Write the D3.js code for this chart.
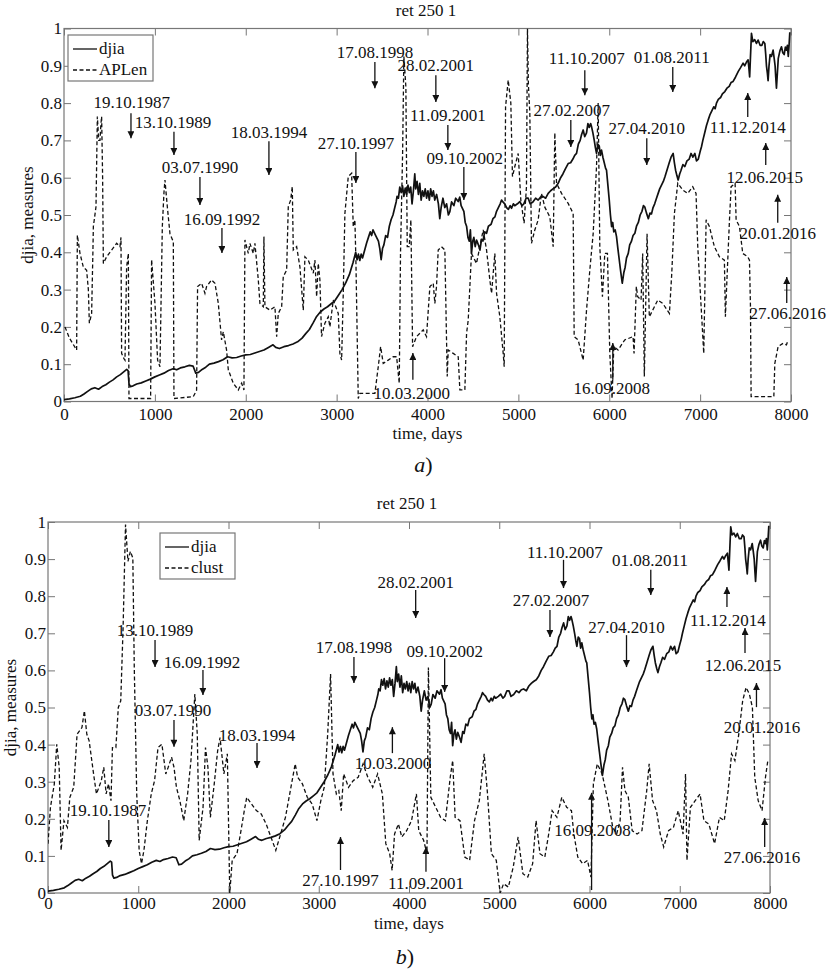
<!DOCTYPE html>
<html>
<head>
<meta charset="utf-8">
<script src="https://cdn.jsdelivr.net/npm/d3@7"></script>
<style>
  body { margin: 0; background: #fff; }
  svg, svg text { font-family: 'Liberation Serif', 'DejaVu Serif', serif; }
</style>
</head>
<body>
<div id="canvas"></div>
<script>
// ---- data (day, normalised value) ----
const xTicks = [0, 1000, 2000, 3000, 4000, 5000, 6000, 7000, 8000];
const yTicks = [0, 0.1, 0.2, 0.3, 0.4, 0.5, 0.6, 0.7, 0.8, 0.9, 1];

const djia = [[0,0.005],[60,0.007],[120,0.010],[180,0.014],[220,0.020],[260,0.027],[300,0.034],[340,0.037],[380,0.033],[420,0.040],[460,0.045],[500,0.052],[540,0.058],[580,0.066],[620,0.072],[660,0.080],[690,0.086],[705,0.083],[715,0.048],[730,0.040],[760,0.042],[800,0.047],[850,0.050],[900,0.055],[950,0.060],[1000,0.066],[1050,0.071],[1100,0.076],[1150,0.083],[1200,0.088],[1240,0.085],[1280,0.090],[1330,0.093],[1380,0.097],[1420,0.095],[1450,0.076],[1480,0.078],[1520,0.086],[1560,0.092],[1600,0.100],[1650,0.103],[1700,0.107],[1750,0.112],[1800,0.120],[1850,0.117],[1900,0.118],[1950,0.122],[2000,0.125],[2050,0.126],[2100,0.130],[2150,0.134],[2200,0.138],[2250,0.145],[2300,0.152],[2330,0.145],[2370,0.142],[2420,0.147],[2470,0.150],[2520,0.154],[2570,0.160],[2620,0.170],[2660,0.182],[2700,0.193],[2740,0.210],[2780,0.228],[2820,0.240],[2860,0.248],[2900,0.254],[2940,0.262],[2980,0.270],[3020,0.285],[3060,0.300],[3100,0.318],[3140,0.340],[3180,0.372],[3210,0.400],[3225,0.380],[3240,0.395],[3255,0.378],[3270,0.395],[3285,0.385],[3300,0.398],[3330,0.425],[3350,0.440],[3370,0.455],[3385,0.445],[3400,0.460],[3430,0.445],[3460,0.430],[3475,0.410],[3490,0.380],[3505,0.410],[3520,0.420],[3540,0.445],[3560,0.440],[3580,0.470],[3600,0.488],[3620,0.500],[3640,0.520],[3655,0.535],[3665,0.550],[3680,0.545],[3695,0.575],[3710,0.560],[3725,0.578],[3740,0.550],[3755,0.572],[3770,0.555],[3785,0.580],[3800,0.560],[3815,0.575],[3830,0.530],[3845,0.565],[3860,0.610],[3870,0.570],[3885,0.590],[3900,0.555],[3915,0.585],[3930,0.540],[3945,0.565],[3960,0.550],[3975,0.570],[3990,0.545],[4005,0.565],[4020,0.540],[4035,0.570],[4050,0.550],[4065,0.565],[4080,0.540],[4100,0.555],[4120,0.530],[4135,0.490],[4150,0.520],[4170,0.545],[4190,0.520],[4210,0.530],[4230,0.500],[4246,0.509],[4265,0.535],[4290,0.525],[4310,0.545],[4338,0.536],[4355,0.548],[4370,0.525],[4400,0.510],[4415,0.480],[4430,0.470],[4445,0.440],[4460,0.430],[4472,0.460],[4484,0.397],[4498,0.430],[4510,0.440],[4525,0.415],[4540,0.433],[4560,0.420],[4577,0.406],[4595,0.435],[4610,0.430],[4630,0.455],[4650,0.451],[4670,0.470],[4700,0.475],[4720,0.490],[4742,0.495],[4760,0.510],[4780,0.520],[4800,0.530],[4815,0.540],[4830,0.535],[4850,0.530],[4870,0.520],[4890,0.515],[4910,0.525],[4925,0.518],[4945,0.530],[4960,0.525],[4990,0.530],[5016,0.536],[5040,0.525],[5060,0.530],[5085,0.545],[5108,0.545],[5130,0.530],[5160,0.535],[5190,0.545],[5218,0.540],[5245,0.548],[5270,0.550],[5300,0.545],[5328,0.558],[5355,0.565],[5380,0.570],[5410,0.575],[5438,0.585],[5465,0.600],[5490,0.610],[5520,0.625],[5548,0.638],[5575,0.640],[5600,0.650],[5620,0.660],[5640,0.665],[5660,0.690],[5680,0.700],[5695,0.715],[5713,0.728],[5730,0.710],[5750,0.720],[5765,0.745],[5780,0.735],[5795,0.745],[5805,0.737],[5820,0.720],[5835,0.700],[5848,0.680],[5860,0.665],[5875,0.690],[5890,0.685],[5902,0.660],[5915,0.674],[5930,0.655],[5945,0.640],[5960,0.625],[5970,0.620],[5985,0.580],[6000,0.540],[6013,0.500],[6026,0.469],[6038,0.480],[6050,0.455],[6065,0.460],[6080,0.442],[6095,0.410],[6110,0.380],[6125,0.350],[6143,0.317],[6160,0.345],[6175,0.360],[6190,0.385],[6209,0.397],[6225,0.420],[6245,0.430],[6262,0.445],[6282,0.451],[6300,0.470],[6320,0.480],[6340,0.500],[6360,0.510],[6376,0.525],[6392,0.521],[6410,0.505],[6430,0.490],[6448,0.505],[6465,0.503],[6482,0.520],[6500,0.530],[6520,0.545],[6538,0.558],[6555,0.570],[6575,0.580],[6595,0.590],[6612,0.602],[6635,0.620],[6660,0.640],[6680,0.655],[6703,0.665],[6717,0.640],[6730,0.620],[6745,0.605],[6758,0.594],[6775,0.610],[6790,0.620],[6810,0.635],[6832,0.630],[6855,0.645],[6880,0.650],[6900,0.665],[6920,0.655],[6942,0.665],[6960,0.645],[6980,0.650],[7000,0.670],[7015,0.683],[7030,0.700],[7050,0.720],[7070,0.740],[7089,0.755],[7110,0.770],[7130,0.780],[7150,0.790],[7165,0.785],[7180,0.800],[7200,0.810],[7225,0.815],[7245,0.825],[7272,0.831],[7295,0.840],[7320,0.845],[7340,0.855],[7363,0.858],[7390,0.870],[7420,0.885],[7445,0.895],[7473,0.907],[7490,0.900],[7510,0.910],[7528,0.916],[7538,0.890],[7545,0.870],[7555,0.930],[7565,0.987],[7580,0.965],[7600,0.970],[7620,0.960],[7638,0.969],[7660,0.955],[7680,0.955],[7695,0.965],[7712,0.960],[7722,0.930],[7730,0.900],[7740,0.880],[7748,0.860],[7758,0.900],[7770,0.930],[7785,0.925],[7803,0.942],[7815,0.920],[7825,0.900],[7832,0.870],[7840,0.840],[7850,0.880],[7860,0.920],[7878,0.940],[7895,0.951],[7910,0.935],[7925,0.930],[7938,0.950],[7950,0.942],[7960,0.955],[7970,0.925],[7980,0.960],[7987,0.990]];

const apLen = [[11,0.2],[60,0.17],[139,0.138],[147,0.446],[176,0.397],[213,0.36],[249,0.352],[268,0.30],[279,0.21],[304,0.236],[318,0.40],[323,0.469],[352,0.522],[360,0.65],[367,0.764],[382,0.70],[396,0.70],[405,0.74],[414,0.764],[425,0.60],[433,0.37],[469,0.388],[524,0.406],[579,0.424],[616,0.415],[627,0.44],[634,0.129],[660,0.115],[671,0.111],[689,0.36],[708,0.397],[715,0.008],[953,0.008],[964,0.38],[1001,0.263],[1030,0.111],[1056,0.093],[1082,0.469],[1100,0.56],[1111,0.594],[1137,0.522],[1166,0.45],[1203,0.428],[1210,0.008],[1423,0.013],[1459,0.03],[1470,0.308],[1514,0.317],[1551,0.29],[1569,0.308],[1624,0.326],[1661,0.317],[1698,0.263],[1734,0.165],[1753,0.187],[1789,0.138],[1808,0.085],[1863,0.049],[1918,0.031],[1955,0.049],[1980,0.031],[1991,0.433],[2028,0.397],[2046,0.424],[2083,0.397],[2101,0.424],[2138,0.326],[2156,0.263],[2193,0.254],[2200,0.442],[2211,0.254],[2266,0.245],[2321,0.254],[2340,0.174],[2358,0.236],[2395,0.254],[2413,0.335],[2450,0.352],[2468,0.522],[2494,0.54],[2512,0.576],[2523,0.406],[2560,0.415],[2596,0.361],[2633,0.245],[2651,0.388],[2688,0.379],[2743,0.344],[2761,0.379],[2780,0.281],[2798,0.37],[2816,0.326],[2834,0.174],[2871,0.21],[2908,0.227],[2926,0.2],[2963,0.272],[3018,0.236],[3036,0.129],[3055,0.111],[3073,0.29],[3091,0.504],[3128,0.603],[3165,0.612],[3183,0.469],[3201,0.487],[3212,0.38],[3238,0.008],[3256,0.022],[3421,0.022],[3458,0.093],[3484,0.147],[3513,0.102],[3568,0.111],[3623,0.12],[3660,0.12],[3689,0.049],[3703,0.397],[3726,0.665],[3740,0.925],[3762,0.844],[3777,0.415],[3799,0.415],[3817,0.487],[3836,0.147],[3880,0.174],[3953,0.192],[3989,0.174],[4026,0.308],[4063,0.317],[4081,0.263],[4099,0.308],[4118,0.406],[4154,0.415],[4191,0.406],[4217,0.067],[4228,0.138],[4283,0.129],[4338,0.12],[4356,0.031],[4411,0.031],[4430,0.183],[4448,0.218],[4484,0.397],[4539,0.37],[4613,0.46],[4650,0.406],[4686,0.326],[4705,0.29],[4741,0.397],[4760,0.29],[4796,0.227],[4833,0.129],[4844,0.093],[4859,0.79],[4888,0.862],[4917,0.8],[4935,0.603],[4961,0.63],[4998,0.665],[5027,0.54],[5063,0.478],[5089,0.576],[5100,1.0],[5110,0.85],[5126,0.773],[5144,0.424],[5181,0.46],[5218,0.487],[5254,0.558],[5291,0.521],[5346,0.495],[5383,0.415],[5401,0.72],[5420,0.585],[5475,0.558],[5548,0.531],[5603,0.504],[5614,0.174],[5658,0.165],[5713,0.111],[5750,0.245],[5786,0.352],[5823,0.45],[5860,0.63],[5878,0.8],[5896,0.415],[5925,0.281],[5951,0.397],[5980,0.397],[6006,0.129],[6031,0.008],[6050,0.147],[6097,0.138],[6170,0.165],[6262,0.174],[6273,0.129],[6298,0.308],[6313,0.281],[6350,0.272],[6368,0.397],[6386,0.067],[6416,0.45],[6441,0.227],[6497,0.254],[6534,0.272],[6589,0.263],[6662,0.236],[6688,0.344],[6717,0.504],[6754,0.585],[6809,0.567],[6864,0.558],[6919,0.576],[6955,0.558],[6974,0.415],[7011,0.254],[7040,0.129],[7066,0.487],[7102,0.469],[7157,0.415],[7212,0.388],[7267,0.379],[7278,0.227],[7304,0.379],[7323,0.487],[7341,0.576],[7385,0.585],[7396,0.487],[7433,0.469],[7469,0.397],[7524,0.388],[7543,0.379],[7554,0.254],[7561,0.013],[7811,0.013],[7822,0.102],[7858,0.147],[7913,0.156],[7950,0.152],[7968,0.165]];

const clust = [[0,0.133],[27,0.231],[70,0.294],[97,0.401],[124,0.339],[145,0.115],[177,0.195],[215,0.177],[242,0.258],[285,0.285],[322,0.428],[376,0.446],[403,0.491],[430,0.428],[456,0.41],[510,0.312],[537,0.267],[591,0.303],[618,0.339],[644,0.267],[671,0.294],[698,0.249],[714,0.392],[752,0.392],[779,0.5],[806,0.518],[832,0.715],[859,0.993],[886,0.894],[913,0.921],[940,0.903],[956,0.607],[983,0.267],[1010,0.115],[1036,0.079],[1063,0.115],[1101,0.195],[1144,0.267],[1181,0.303],[1219,0.392],[1262,0.401],[1305,0.321],[1332,0.339],[1369,0.366],[1396,0.339],[1423,0.285],[1461,0.249],[1504,0.195],[1547,0.267],[1584,0.357],[1627,0.536],[1654,0.428],[1675,0.142],[1718,0.231],[1745,0.392],[1772,0.339],[1799,0.204],[1842,0.294],[1880,0.384],[1906,0.419],[1949,0.321],[1987,0.375],[2014,0.0],[2041,0.088],[2094,0.106],[2132,0.159],[2175,0.222],[2202,0.258],[2255,0.24],[2309,0.222],[2363,0.213],[2417,0.186],[2470,0.151],[2524,0.115],[2578,0.159],[2631,0.204],[2685,0.276],[2739,0.348],[2766,0.312],[2819,0.294],[2873,0.258],[2927,0.24],[2980,0.195],[3023,0.249],[3061,0.285],[3099,0.428],[3131,0.59],[3158,0.321],[3195,0.267],[3222,0.276],[3249,0.222],[3276,0.321],[3330,0.285],[3383,0.303],[3437,0.312],[3491,0.348],[3544,0.312],[3598,0.285],[3652,0.321],[3705,0.267],[3743,0.133],[3786,0.106],[3813,0.061],[3840,0.159],[3883,0.186],[3920,0.151],[3974,0.168],[4028,0.195],[4082,0.267],[4108,0.168],[4162,0.142],[4199,0.106],[4215,0.608],[4242,0.258],[4296,0.231],[4350,0.204],[4403,0.195],[4457,0.312],[4484,0.357],[4511,0.204],[4565,0.195],[4618,0.097],[4672,0.088],[4726,0.195],[4779,0.249],[4833,0.375],[4870,0.267],[4913,0.106],[4967,0.088],[5010,0.0],[5048,0.025],[5101,0.016],[5155,0.07],[5209,0.151],[5262,0.052],[5316,0.043],[5370,0.079],[5408,0.195],[5451,0.106],[5505,0.097],[5548,0.159],[5586,0.222],[5639,0.204],[5693,0.258],[5747,0.231],[5800,0.222],[5827,0.159],[5870,0.097],[5924,0.079],[5978,0.088],[6016,0.043],[6043,0.294],[6086,0.348],[6140,0.321],[6204,0.249],[6258,0.177],[6301,0.159],[6339,0.195],[6366,0.339],[6393,0.276],[6430,0.258],[6473,0.168],[6527,0.159],[6581,0.168],[6634,0.276],[6661,0.348],[6699,0.249],[6742,0.222],[6784,0.159],[6822,0.124],[6876,0.168],[6930,0.177],[6983,0.222],[7037,0.159],[7064,0.321],[7080,0.088],[7118,0.231],[7171,0.249],[7225,0.267],[7268,0.195],[7322,0.186],[7386,0.133],[7440,0.204],[7493,0.195],[7536,0.276],[7574,0.375],[7611,0.357],[7654,0.428],[7697,0.518],[7735,0.554],[7772,0.536],[7805,0.5],[7831,0.312],[7869,0.249],[7912,0.222],[7950,0.312],[7976,0.357]];

// annotations: label, text day, text value, arrow day, arrow tail value, arrow head value
const notesA = [
  ["19.10.1987", 745, 0.804, 737, 0.773, 0.706],
  ["13.10.1989", 1199, 0.750, 1210, 0.723, 0.661],
  ["03.07.1990", 1496, 0.629, 1496, 0.602, 0.527],
  ["16.09.1992", 1738, 0.489, 1738, 0.465, 0.398],
  ["18.03.1994", 2255, 0.723, 2255, 0.698, 0.607],
  ["27.10.1997", 3212, 0.694, 3212, 0.669, 0.586],
  ["17.08.1998", 3421, 0.938, 3421, 0.910, 0.840],
  ["28.02.2001", 4092, 0.902, 4092, 0.875, 0.803],
  ["11.09.2001", 4224, 0.768, 4224, 0.741, 0.674],
  ["09.10.2002", 4411, 0.653, 4400, 0.629, 0.540],
  ["10.03.2000", 3828, 0.023, 3839, 0.058, 0.130],
  ["27.02.2007", 5588, 0.782, 5577, 0.755, 0.682],
  ["11.10.2007", 5753, 0.921, 5731, 0.888, 0.821],
  ["01.08.2011", 6688, 0.924, 6699, 0.897, 0.830],
  ["27.04.2010", 6413, 0.733, 6413, 0.706, 0.634],
  ["16.09.2008", 6028, 0.036, 6039, 0.058, 0.157],
  ["11.12.2014", 7524, 0.736, 7524, 0.763, 0.827],
  ["12.06.2015", 7711, 0.602, 7722, 0.634, 0.693],
  ["20.01.2016", 7854, 0.452, 7854, 0.479, 0.554],
  ["27.06.2016", 7964, 0.237, 7953, 0.264, 0.334]
];
const notesB = [
  ["19.10.1987", 664, 0.224, 674, 0.197, 0.124],
  ["13.10.1989", 1186, 0.709, 1186, 0.682, 0.609],
  ["16.09.1992", 1706, 0.623, 1717, 0.601, 0.534],
  ["03.07.1990", 1385, 0.493, 1396, 0.466, 0.394],
  ["18.03.1994", 2316, 0.426, 2316, 0.404, 0.337],
  ["17.08.1998", 3390, 0.663, 3390, 0.636, 0.566],
  ["10.03.2000", 3823, 0.350, 3816, 0.377, 0.447],
  ["27.10.1997", 3241, 0.035, 3241, 0.062, 0.151],
  ["11.09.2001", 4188, 0.027, 4188, 0.057, 0.124],
  ["28.02.2001", 4074, 0.838, 4074, 0.817, 0.741],
  ["09.10.2002", 4395, 0.652, 4395, 0.633, 0.542],
  ["27.02.2007", 5573, 0.790, 5562, 0.763, 0.690],
  ["11.10.2007", 5728, 0.919, 5712, 0.898, 0.822],
  ["01.08.2011", 6670, 0.898, 6679, 0.871, 0.803],
  ["27.04.2010", 6410, 0.717, 6410, 0.695, 0.609],
  ["16.09.2008", 6034, 0.170, 6023, 0.008, 0.270],
  ["11.12.2014", 7534, 0.736, 7523, 0.771, 0.825],
  ["12.06.2015", 7701, 0.615, 7723, 0.647, 0.714],
  ["20.01.2016", 7911, 0.447, 7850, 0.501, 0.566],
  ["27.06.2016", 7911, 0.097, 7941, 0.124, 0.202]
];

const W = 835, H = 969;
const FONT = "'Liberation Serif', 'DejaVu Serif', serif";
const svg = d3.select("#canvas").append("svg")
    .attr("width", W).attr("height", H)
    .attr("font-family", FONT);
svg.append("rect").attr("width", W).attr("height", H).attr("fill", "#fff");

let defs = svg.append("defs");
defs.append("marker")
    .attr("id", "head")
    .attr("viewBox", "0 0 10 10")
    .attr("refX", 10).attr("refY", 5)
    .attr("markerUnits", "userSpaceOnUse")
    .attr("markerWidth", 9).attr("markerHeight", 7)
    .attr("orient", "auto")
  .append("path").attr("d", "M0,0L10,5L0,10z").attr("fill", "#111");

/**
 * Draw one panel (axes box, both series, date arrows, legend, labels)
 */
function drawPanel(p) {
    let x = d3.scaleLinear().domain([0, 8000]).range([p.left, p.right]);
    let y = d3.scaleLinear().domain([0, 1]).range([p.bottom, p.top]);
    let g = svg.append("g");

    g.append("clipPath").attr("id", p.id + "clip")
      .append("rect").attr("x", p.left).attr("y", p.top)
      .attr("width", p.right - p.left).attr("height", p.bottom - p.top);

    let yFmt = d => (d === 0 || d === 1) ? String(d) : d3.format(".1f")(d);

    g.append("g").attr("transform", "translate(0," + p.bottom + ")")
        .call(d3.axisBottom(x).tickValues(xTicks).tickFormat(d3.format("d"))
            .tickSize(-7).tickPadding(p.xPad).tickSizeOuter(0));
    g.append("g").attr("transform", "translate(" + p.left + ",0)")
        .call(d3.axisLeft(y).tickValues(yTicks).tickFormat(yFmt).tickSize(-7).tickPadding(2).tickSizeOuter(0));
    g.append("g").attr("transform", "translate(0," + p.top + ")")
        .call(d3.axisTop(x).tickValues(xTicks).tickSize(-7).tickFormat("").tickSizeOuter(0));
    g.append("g").attr("transform", "translate(" + p.right + ",0)")
        .call(d3.axisRight(y).tickValues(yTicks).tickSize(-7).tickFormat("").tickSizeOuter(0));
    g.selectAll(".domain").remove();
    g.selectAll("g.tick").select("line").attr("stroke", "#777");
    g.selectAll("g[font-family]").attr("font-family", FONT).attr("font-size", 17);
    g.selectAll(".tick text").attr("fill", "#111");

    g.append("rect").attr("x", p.left).attr("y", p.top)
        .attr("width", p.right - p.left).attr("height", p.bottom - p.top)
        .attr("fill", "none").attr("stroke", "#777").attr("stroke-width", 1.2);

    let line = d3.line().x(d => x(d[0])).y(d => y(d[1]));
    let lines = g.append("g").attr("clip-path", "url(#" + p.id + "clip)");
    lines.append("path").datum(p.measure).attr("d", line)
        .attr("fill", "none").attr("stroke", "#111").attr("stroke-width", 1.3)
        .attr("stroke-dasharray", "4,2.5");
    lines.append("path").datum(djia).attr("d", line)
        .attr("fill", "none").attr("stroke", "#111").attr("stroke-width", 1.7)
        .attr("stroke-linejoin", "round");

    // date annotations
    let notes = g.append("g");
    p.notes.forEach(n => {
        notes.append("text").text(n[0])
            .attr("x", x(n[1])).attr("y", y(n[2]) + 6)
            .attr("text-anchor", "middle").attr("font-size", 17).attr("fill", "#111");
        notes.append("line")
            .attr("x1", x(n[3])).attr("x2", x(n[3]))
            .attr("y1", y(n[4])).attr("y2", y(n[5]))
            .attr("stroke", "#111").attr("stroke-width", 1.3)
            .attr("marker-end", "url(#head)");
    });

    // legend
    let lg = g.append("g");
    lg.append("rect").attr("x", p.leg[0]).attr("y", p.leg[1])
        .attr("width", p.leg[2]).attr("height", p.leg[3])
        .attr("fill", "#fff").attr("stroke", "#777").attr("stroke-width", 1.2);
    [["djia", null], [p.name, "4,2.5"]].forEach((s, i) => {
        let ly = p.leg[1] + 14 + i * 21;
        lg.append("line").attr("x1", p.leg[0] + 5).attr("x2", p.leg[0] + 29)
            .attr("y1", ly).attr("y2", ly)
            .attr("stroke", "#111").attr("stroke-width", 1.3)
            .attr("stroke-dasharray", s[1]);
        lg.append("text").text(s[0]).attr("x", p.leg[0] + 31).attr("y", ly + 5)
            .attr("font-size", 17).attr("fill", "#111");
    });

    // titles and labels
    g.append("text").text("ret 250 1").attr("x", p.titleX).attr("y", p.top - 13)
        .attr("text-anchor", "middle").attr("font-size", 17).attr("fill", "#111");
    g.append("text").text("time, days").attr("x", (p.left + p.right) / 2).attr("y", p.bottom + p.xLab)
        .attr("text-anchor", "middle").attr("font-size", 17).attr("fill", "#111");
    g.append("text").text("djia, measures")
        .attr("transform", "translate(" + p.yLabX + "," + (p.top + p.bottom) / 2 + ") rotate(-90)")
        .attr("text-anchor", "middle").attr("font-size", 17).attr("fill", "#111");
    g.append("text").attr("x", (p.left + p.right) / 2 - 4).attr("y", p.bottom + p.capY)
        .attr("text-anchor", "middle").attr("font-size", 22).attr("fill", "#111")
        .call(t => {
            t.append("tspan").attr("font-style", "italic").text(p.cap);
            t.append("tspan").text(")");
        });
}

drawPanel({id: "a", left: 64, right: 791, top: 28.5, bottom: 401.5, xPad: 6,
    measure: apLen, name: "APLen", notes: notesA, leg: [68, 35, 85, 46],
    titleX: 426, xLab: 37, yLabX: 33, cap: "a", capY: 70});
drawPanel({id: "b", left: 48, right: 770, top: 522, bottom: 893, xPad: 4,
    measure: clust, name: "clust", notes: notesB, leg: [160, 533, 75, 46],
    titleX: 407, xLab: 36, yLabX: 16, cap: "b", capY: 71});
</script>
</body>
</html>
